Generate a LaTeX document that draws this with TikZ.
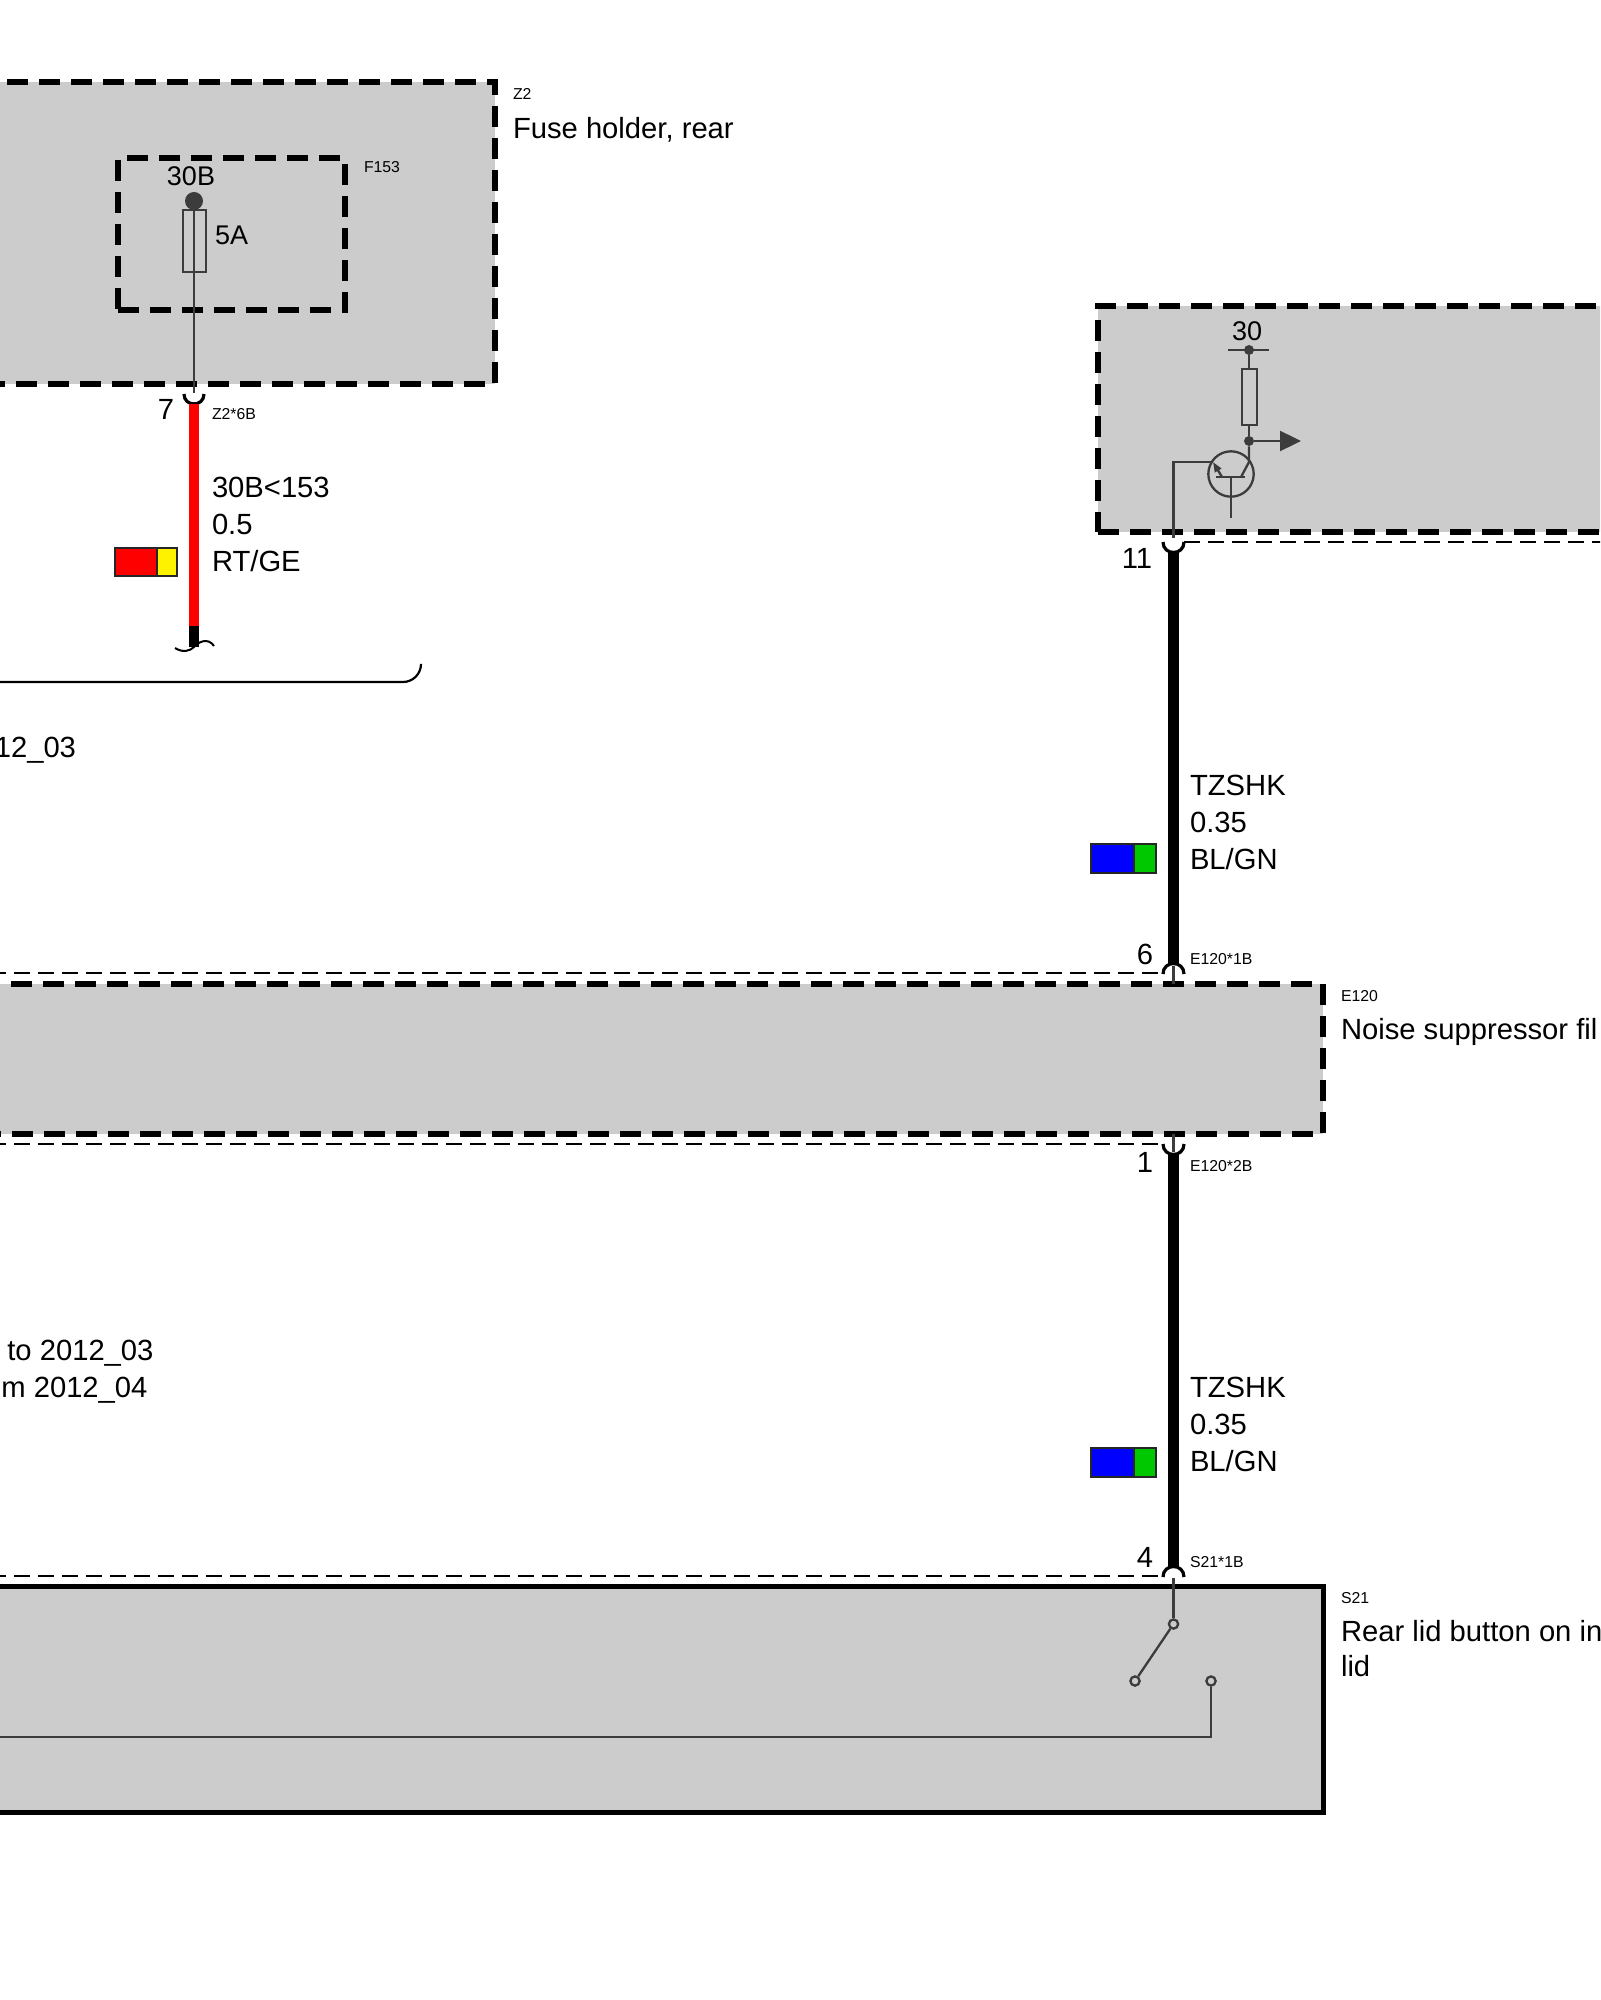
\documentclass[tikz,border=0pt]{standalone}
\usepackage{fontspec}
\setmainfont{Liberation Sans}
\usetikzlibrary{arrows.meta}

\definecolor{boxgray}{HTML}{CCCCCC}
\definecolor{thingray}{HTML}{3C3C3C}
\definecolor{wiregreen}{HTML}{00C800}

\tikzset{
  txt/.style={anchor=base west, inner sep=0pt, outer sep=0pt, text=black,
    font=\fontsize{14.6}{17}\selectfont},
  txtc/.style={txt, anchor=base},
  txtt/.style={txt, font=\fontsize{13.5}{16}\selectfont},
  txts/.style={txt, font=\fontsize{7.9}{9}\selectfont},
  dashbox/.style={draw=black, fill=boxgray, line width=2.7pt, inner sep=0pt,
    outer sep=0pt, dash pattern=on 10.5pt off 5.5pt},
  solidbox/.style={draw=black, fill=boxgray, line width=2.5pt, inner sep=0pt,
    outer sep=0pt},
  thinwire/.style={draw=thingray, line width=1.15pt},
  dot/.style={circle, fill=thingray, inner sep=0pt, minimum size=5pt},
  contact/.style={circle, draw=thingray, fill=boxgray, line width=1.15pt,
    inner sep=0pt, minimum size=4.6pt},
  part/.style={draw=thingray, line width=1.15pt, inner sep=0pt, outer sep=0pt},
  pincap/.style={draw=black, line width=1.6pt, looseness=1.7},
  harness/.style={draw=black, line width=5.3pt},
  groupline/.style={draw=black, line width=1pt, dash pattern=on 8pt off 4pt},
  swatch/.style={draw=black!85, line width=1pt, inner sep=0pt, outer sep=0pt,
    minimum height=14.5pt}
}

\begin{document}
\begin{tikzpicture}[x=0.5pt, y=-0.5pt]

\path[use as bounding box, clip] (0,0) rectangle (1600,2000);

% fuse holder
\node[dashbox, minimum width=447.5pt, minimum height=151pt] (zwo) at (47.5,233) {};
\node[dashbox, minimum width=113.5pt, minimum height=76pt] (ffuse) at (231.5,234) {};
\node[txts] (zwoid) at (513,100) {Z2};
\node[txt] (zwoname) at (513,138.5) {Fuse holder, rear};
\node[txts] (ffuseid) at (364,172.5) {F153};
\node[txtt, anchor=base] (ffuseterm) at (191,186) {30B};
\node[txtt] (ffuseamp) at (215,245) {5A};

\node[dot, minimum size=9pt] (ffusedot) at (194,201) {};
\coordinate (zwopin) at (194,393);
\coordinate (zwocapa) at (184,394);
\coordinate (zwocapb) at (204,394);
\coordinate (redtop) at (194,404);
\coordinate (redend) at (194,626);
\coordinate (redtail) at (194,647);
\draw[thinwire] (ffusedot) -- (zwopin);
\node[part, minimum width=11.5pt, minimum height=31pt] (ffusebody) at (194.5,241) {};
\draw[pincap] (zwocapa) to[out=-90, in=-90] (zwocapb);

% red wire
\draw[harness, draw=red] (redtop) -- (redend);
\draw[harness] (redend) -- (redtail);
\coordinate (taila) at (175,648);
\coordinate (tailb) at (194,647);
\coordinate (tailc) at (214,646);
\draw[draw=black, line width=1pt] (taila) .. controls (183,653) and (190,651) .. (tailb)
  .. controls (198,642) and (208,637) .. (tailc);
\node[txtc] (pinseven) at (166,420) {7};
\node[txts] (zwosock) at (212,420) {Z2*6B};
\node[txt] (redname) at (212,497) {30B<153};
\node[txt] (redsize) at (212,534) {0.5};
\node[txt] (redcolor) at (212,571) {RT/GE};
\node[swatch, fill=red, minimum width=21pt, minimum height=14pt] (redswa) at (136,562) {};
\node[swatch, fill=yellow, minimum width=10pt, minimum height=14pt] (redswb) at (167,562) {};

% variant bracket
\coordinate (bracketa) at (-10,682);
\coordinate (bracketb) at (421,682);
\coordinate (bracketc) at (421,665);
\draw[draw=black, line width=1.1pt, rounded corners=9pt] (bracketa) -- (bracketb) -- (bracketc);
\node[txt, anchor=base east] (variantone) at (76,757) {12\_03};
\node[txt, anchor=base east] (varianttwo) at (153.5,1360) {to 2012\_03};
\node[txt, anchor=base east] (variantthree) at (147.5,1397) {om 2012\_04};

% unit with transistor input
\node[dashbox, minimum width=300pt, minimum height=113pt] (unit) at (1398,419) {};
\coordinate (unitline) at (1700,542);
\coordinate (unitcapa) at (1163,542);
\coordinate (unitcapb) at (1184,542);
\draw[groupline] (unitcapb) -- (unitline);
\node[txtt, anchor=base] (unitterm) at (1247,341) {30};
\node[dot] (unitdot) at (1249,350) {};
\coordinate (unitbara) at (1228,350);
\coordinate (unitbarb) at (1269,350);
\draw[thinwire] (unitbara) -- (unitbarb);
\node[dot] (unitjoin) at (1249,441) {};
\draw[thinwire] (unitdot) -- (unitjoin);
\node[part, fill=boxgray, minimum width=7.5pt, minimum height=28pt] (unitres) at (1249.5,397) {};
\coordinate (unittip) at (1301,441);
\draw[thinwire, -{Triangle[length=10.5pt, width=10pt]}] (unitjoin) -- (unittip);

\node[circle, part, minimum size=22.7pt] (trans) at (1231,474) {};
\coordinate (transc) at (1249,462);
\coordinate (transd) at (1241,477);
\coordinate (transe) at (1222,477);
\coordinate (transf) at (1213,462);
\coordinate (transg) at (1173.5,462);
\coordinate (transh) at (1173.5,538);
\coordinate (transi) at (1216,477);
\coordinate (transj) at (1245,477);
\coordinate (transk) at (1231,477);
\coordinate (transl) at (1231,518);
\draw[thinwire] (unitjoin) -- (transc) -- (transd);
\draw[thinwire] (transi) -- (transj);
\draw[thinwire] (transk) -- (transl);
\draw[thinwire, -{Triangle[length=5pt, width=3.6pt]}] (transe) -- (transf);
\draw[thinwire] (transf) -- (transg) -- (transh);
\draw[pincap] (unitcapa) to[out=-90, in=-90] (unitcapb);

% upper harness
\coordinate (upperone) at (1173.5,552);
\coordinate (uppertwo) at (1173.5,964);
\draw[harness] (upperone) -- (uppertwo);
\node[txtc] (pineleven) at (1137,568) {11};
\node[txt] (uppername) at (1190,795) {TZSHK};
\node[txt] (uppersize) at (1190,832) {0.35};
\node[txt] (uppercolor) at (1190,869) {BL/GN};
\node[swatch, fill=blue, minimum width=21.5pt] (upperswa) at (1112.5,858.5) {};
\node[swatch, fill=wiregreen, minimum width=11pt] (upperswb) at (1145,858.5) {};

% noise suppressor
\node[dashbox, minimum width=671.5pt, minimum height=75pt] (filt) at (651.5,1059) {};
\coordinate (filtlinea) at (-10,973);
\coordinate (filtlineb) at (1158,973);
\coordinate (filtlinec) at (-10,1144);
\coordinate (filtlined) at (1158,1144);
\coordinate (filtcapa) at (1163,974);
\coordinate (filtcapb) at (1184,974);
\coordinate (filtcapc) at (1163,1144);
\coordinate (filtcapd) at (1184,1144);
\coordinate (filtstuba) at (1173.5,966);
\coordinate (filtstubb) at (1173.5,984);
\coordinate (filtstubc) at (1173.5,1134);
\coordinate (filtstubd) at (1173.5,1152);
\draw[groupline] (filtlinea) -- (filtlineb);
\draw[groupline] (filtlinec) -- (filtlined);
\draw[thinwire] (filtstuba) -- (filtstubb);
\draw[thinwire] (filtstubc) -- (filtstubd);
\draw[pincap] (filtcapa) to[out=90, in=90] (filtcapb);
\draw[pincap] (filtcapc) to[out=-90, in=-90] (filtcapd);
\node[txtc] (pinsix) at (1145,964) {6};
\node[txtc] (pinone) at (1145,1172) {1};
\node[txts] (filtsocka) at (1190,964.5) {E120*1B};
\node[txts] (filtsockb) at (1190,1171.5) {E120*2B};
\node[txts] (filtid) at (1341,1001) {E120};
\node[txt] (filtname) at (1341,1039) {Noise suppressor fil};

% lower harness
\coordinate (lowerone) at (1173.5,1154);
\coordinate (lowertwo) at (1173.5,1567);
\draw[harness] (lowerone) -- (lowertwo);
\node[txt] (lowername) at (1190,1397) {TZSHK};
\node[txt] (lowersize) at (1190,1434) {0.35};
\node[txt] (lowercolor) at (1190,1471) {BL/GN};
\node[swatch, fill=blue, minimum width=21.5pt] (lowerswa) at (1112.5,1462) {};
\node[swatch, fill=wiregreen, minimum width=11pt] (lowerswb) at (1145,1462) {};

% rear lid button
\node[solidbox, minimum width=671.5pt, minimum height=113pt] (button) at (651.5,1699) {};
\coordinate (buttonlinea) at (-10,1576);
\coordinate (buttonlineb) at (1158,1576);
\coordinate (buttoncapa) at (1163,1577);
\coordinate (buttoncapb) at (1184,1577);
\coordinate (buttonstub) at (1173.5,1578);
\draw[groupline] (buttonlinea) -- (buttonlineb);
\draw[pincap] (buttoncapa) to[out=90, in=90] (buttoncapb);
\node[contact] (swpivot) at (1173.5,1624) {};
\node[contact] (swopen) at (1135,1681) {};
\node[contact] (swfixed) at (1211,1681) {};
\coordinate (swcorner) at (1211,1737);
\coordinate (swleft) at (-10,1737);
\draw[thinwire] (buttonstub) -- (swpivot);
\draw[thinwire] (swpivot) -- (swopen);
\draw[thinwire] (swfixed) -- (swcorner) -- (swleft);
\node[txtc] (pinfour) at (1145,1567) {4};
\node[txts] (buttonsock) at (1190,1567) {S21*1B};
\node[txts] (buttonid) at (1341,1603) {S21};
\node[txt] (buttonname) at (1341,1641) {Rear lid button on in};
\node[txt] (buttonnameb) at (1341,1676) {lid};

\end{tikzpicture}
\end{document}
